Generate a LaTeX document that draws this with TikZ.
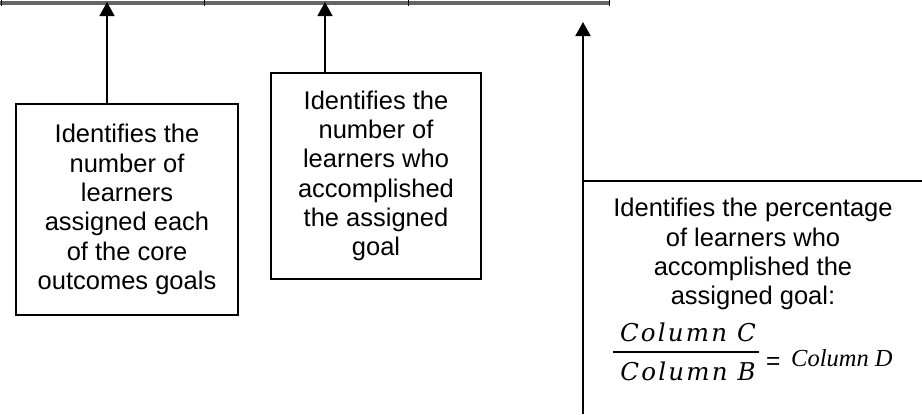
\documentclass[tikz,border=0pt]{standalone}
\usepackage{fontspec}
\setmainfont{Liberation Sans}
\newfontfamily\eqCfont[LetterSpace=9]{DejaVu Serif}
\newfontfamily\eqDfont{Liberation Serif}
\usetikzlibrary{arrows.meta}
\begin{document}
\begin{tikzpicture}[x=0.5pt,y=-0.5pt,
  txt/.style={font=\fontsize{12.75pt}{14.65pt}\selectfont, align=center, inner sep=0pt},
  box/.style={txt, draw, line width=0.65pt},
  arr/.style={line width=0.65pt, -{Triangle[length=7pt,width=7.5pt]}},
  fracpart/.style={font=\fontsize{12.25pt}{14pt}\selectfont\eqCfont\itshape, inner sep=0pt, anchor=base},
  tickline/.style={line width=0.5pt}]
\useasboundingbox (0,0) rectangle (922,414);

% bottom of the table
\coordinate (L0) at (0,3);
\coordinate (L1) at (610,3);
\draw[line width=1.6pt, black!60] (L0) -- (L1);
\foreach \x in {1.5,204,408,609.5} \draw[tickline] (\x,0) -- (\x,6);

% boxes
\node[box, minimum width=111pt, minimum height=105.5pt] (b1) at (127,209.5)
  {Identifies the\\number of\\learners\\assigned each\\of the core\\outcomes goals};
\node[box, minimum width=105pt, minimum height=103pt] (b2) at (376,176)
  {Identifies the\\number of\\learners who\\accomplished\\the assigned\\goal};

\coordinate (t1) at (107,2);
\coordinate (t2) at (325,2);
\draw[arr] (b1.north -| t1) -- (t1);
\draw[arr] (b2.north -| t2) -- (t2);

% third box (cut off)
\coordinate (b3tl) at (583,181);
\coordinate (b3tr) at (922,181);
\draw[line width=0.65pt] (b3tl) -- (b3tr);
\coordinate (a3s) at (583,414);
\coordinate (a3e) at (583,22);
\draw[arr, line width=1pt] (a3s) -- (a3e);

\node[txt, anchor=north] (b3) at (753,198)
  {Identifies the percentage\\of learners who\\accomplished the\\assigned goal:};
\node[fracpart] (num) at (688,341) {Column C};
\node[fracpart] (den) at (688,380) {Column B};
\coordinate (fb1) at (613,352);
\coordinate (fb2) at (759,352);
\draw[line width=1.35pt] (fb1) -- (fb2);
\node[anchor=base west, inner sep=0pt, font=\fontsize{12.25pt}{14pt}\selectfont] (eq) at (765.7,366)
  {\raisebox{-1.5pt}{=}\hspace{5.4pt}{\eqDfont\itshape Column D}};
\end{tikzpicture}
\end{document}
